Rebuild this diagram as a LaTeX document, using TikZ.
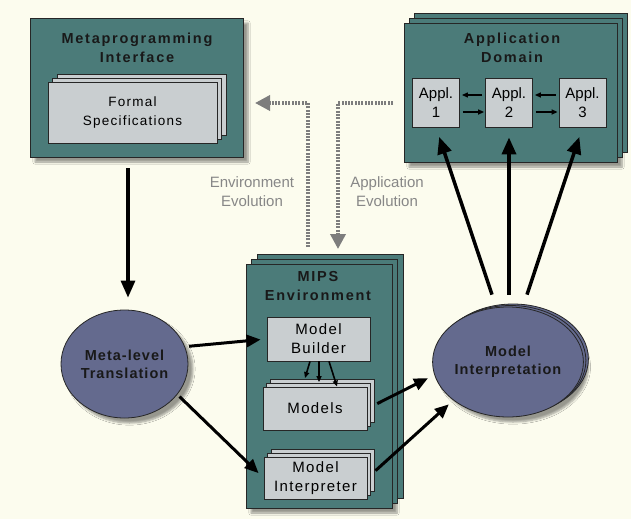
\documentclass[tikz,border=0pt]{standalone}
\usepackage{fontspec}
\setmainfont{Liberation Sans}
\newfontfamily\ttlfont[LetterSpace=12]{Liberation Sans}
\newfontfamily\txtfont[LetterSpace=9]{Liberation Sans}
\newfontfamily\elfont[LetterSpace=7]{Liberation Sans}
\usetikzlibrary{shapes.geometric,arrows.meta,shadows,shadows.blur}
\definecolor{bgc}{RGB}{252,252,238}
\definecolor{tealc}{RGB}{75,123,121}
\definecolor{boxc}{RGB}{201,206,208}
\definecolor{ellc}{RGB}{100,106,142}
\definecolor{dotc}{RGB}{125,125,125}
\definecolor{labc}{RGB}{135,135,135}
\begin{document}
\begin{tikzpicture}[x=1pt,y=-1pt]
\tikzset{
  every node/.style={inner sep=0pt, align=center},
  softshadow/.style={blur shadow={shadow xshift=5pt, shadow yshift=-5pt, shadow blur steps=6, shadow opacity=40}},
  stack/.style 2 args={double copy shadow={shadow xshift=#1pt, shadow yshift=#2pt}},
  tealbox/.style={draw=black!85, line width=0.8pt, fill=tealc},
  graybox/.style={draw=black!85, line width=0.8pt, fill=boxc, font=\txtfont\fontsize{13.5}{19}\selectfont},
  applbox/.style={graybox, minimum width=47pt, minimum height=49pt, font=\fontsize{15}{19}\selectfont},
  ttl/.style={font=\ttlfont\bfseries\fontsize{14.5}{19}\selectfont, text=black!90},
  ellnode/.style={ellipse, draw=black!85, line width=0.8pt, fill=ellc, font=\elfont\bfseries\fontsize{14.5}{18}\selectfont, text=black!90},
  evlab/.style={font=\fontsize{15}{19}\selectfont, text=labc},
  bigarrow/.style={line width=3.2pt, -{Triangle[length=17pt,width=14pt]}},
  midarrow/.style={line width=3pt, -{Triangle[length=14pt,width=12pt]}},
  smallarrow/.style={line width=1.6pt, -{Triangle[length=6pt,width=5pt]}},
  dotarrow/.style={draw=dotc, line width=3.5pt, dash pattern=on 2pt off 1.3pt, -{Triangle[length=15pt,width=15pt]}},
}
\fill[bgc] (0,0) rectangle (631,519);
\useasboundingbox (0,0) rectangle (631,519);

% Metaprogramming interface
\node[tealbox, softshadow, minimum width=213pt, minimum height=139pt] (mpi) at (136.5,87.5) {};
\node[ttl] (mpit) at (137,48) {Metaprogramming\\Interface};
\node[graybox, stack={4.5}{4}, minimum width=169pt, minimum height=61pt] (fs) at (132.5,112.5) {Formal\\Specifications};

% Application domain
\node[tealbox, softshadow, stack={5}{5}, minimum width=213pt, minimum height=139pt] (ad) at (510.5,92.5) {};
\node[ttl] (adt) at (512,48) {Application\\Domain};
\node[applbox] (a1) at (436,102.5) {Appl.\\1};
\node[applbox] (a2) at (509,102.5) {Appl.\\2};
\node[applbox] (a3) at (582.5,102.5) {Appl.\\3};
\draw[line width=1.2pt, -{Triangle[length=6pt,width=5pt]}, shorten <=3pt, shorten >=2pt] ([yshift=7.5pt]a2.west) -- ([yshift=7.5pt]a1.east);
\draw[smallarrow, shorten <=3pt, shorten >=2pt] ([yshift=7.5pt]a3.west) -- ([yshift=7.5pt]a2.east);
\draw[smallarrow, shorten <=3pt, shorten >=1pt] ([yshift=-9.5pt]a1.east) -- ([yshift=-9.5pt]a2.west);
\draw[smallarrow, shorten <=3pt, shorten >=1pt] ([yshift=-9.5pt]a2.east) -- ([yshift=-9.5pt]a3.west);

% MIPS environment
\node[tealbox, softshadow, stack={5.5}{5}, minimum width=146pt, minimum height=244pt] (mips) at (319,386) {};
\node[ttl] (mipst) at (318,286) {MIPS\\Environment};
\node[graybox, minimum width=103pt, minimum height=44pt, font=\txtfont\fontsize{15}{19}\selectfont] (mb) at (318.5,339) {Model\\Builder};
\node[graybox, stack={3.5}{4}, minimum width=104pt, minimum height=43pt, font=\txtfont\fontsize{15}{19}\selectfont] (mo) at (315,408.5) {Models};
\node[graybox, stack={3.5}{4}, minimum width=103pt, minimum height=42pt, font=\txtfont\fontsize{15}{19}\selectfont] (mint) at (315.5,478) {Model\\Interpreter};
\draw[smallarrow] ([xshift=-8.5pt]mb.south) -- ([xshift=-10pt,yshift=8.5pt]mo.north);
\draw[smallarrow] ([xshift=0.5pt]mb.south) -- ([xshift=4pt,yshift=4.5pt]mo.north);
\draw[smallarrow] ([xshift=10.5pt]mb.south) -- ([xshift=22pt]mo.north);

% Ellipses
\node[ellnode, softshadow, minimum width=127pt, minimum height=108pt] (ml) at (124.5,364) {Meta-level\\Translation};
\node[ellnode, softshadow, stack={2.5}{1.5}, minimum width=127pt, minimum height=110pt] (mi) at (508,362) {Model\\Interpretation};

% Dotted evolution arrows
\coordinate (envS) at (308,247);
\coordinate (envE) at (255,103);
\coordinate (appS) at (393,103);
\coordinate (appE) at (338,249);
\draw[dotarrow] (envS) |- (envE);
\draw[dotarrow] (appS) -| (appE);
\node[evlab] (lab1) at (252,192) {Environment\\Evolution};
\node[evlab] (lab2) at (387,192) {Application\\Evolution};

% Solid arrows
\draw[bigarrow, shorten <=11pt, shorten >=12pt] (mpi.south -| 128,0) -- (ml.north -| 128,0);
\draw[midarrow, shorten <=4pt, shorten >=6pt] (ml.16) -- (mb.west);
\draw[midarrow, shorten <=3pt, shorten >=7pt] (ml.-30) -- (mint.west);
\draw[midarrow, shorten <=11pt, shorten >=7pt] (mo.east) -- (mi.190);
\draw[midarrow, shorten <=11pt, shorten >=6pt] (mint.east) -- (mi.215);
\draw[bigarrow, line width=3.5pt, shorten >=10pt] ([xshift=-16pt,yshift=12pt]mi.north) -- (a1.south);
\draw[bigarrow, line width=3.5pt, shorten >=10pt] ([xshift=1pt,yshift=12pt]mi.north) -- (a2.south);
\draw[bigarrow, line width=3.5pt, shorten >=10pt] ([xshift=19pt,yshift=12pt]mi.north) -- (a3.south);
\end{tikzpicture}
\end{document}
